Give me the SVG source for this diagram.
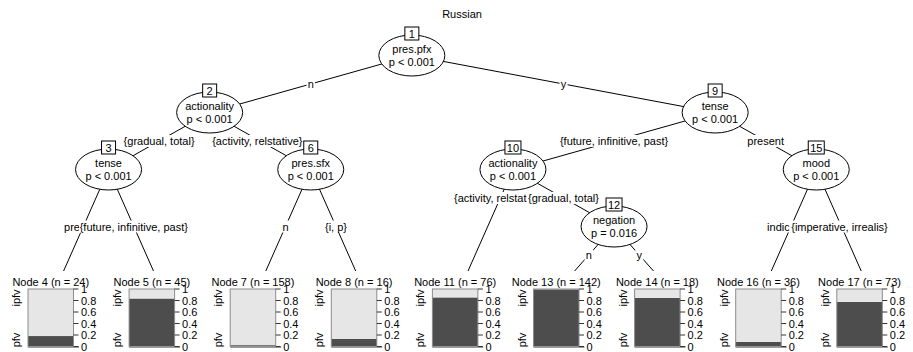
<svg xmlns="http://www.w3.org/2000/svg" width="913" height="352" viewBox="0 0 913 352">
<style>
text{font-family:"Liberation Sans",Arial,sans-serif;font-size:11px;fill:#000}
.m{text-anchor:middle}
.e{fill:#fff;stroke:#000;stroke-width:1}
.bx{fill:#fff;stroke:#000;stroke-width:1}
.edge{stroke:#000;stroke-width:1;fill:none}
.lb{fill:#fff;stroke:none}
.lt{fill:#e6e6e6}
.dk{fill:#4d4d4d}
.fr{fill:none;stroke:#8c8c8c;stroke-width:1}
.bl{stroke:#9a9a9a;stroke-width:1.6}
.tk{stroke:#333;stroke-width:1}
</style>
<rect width="913" height="352" fill="#fff"/>
<text class="m" x="462" y="18">Russian</text>

<g id="edges">
<line class="edge" x1="411.85" y1="55.5" x2="209.65" y2="112.5"/>
<line class="edge" x1="411.85" y1="55.5" x2="715.15" y2="112.5"/>
<line class="edge" x1="209.65" y1="112.5" x2="108.55" y2="169.5"/>
<line class="edge" x1="209.65" y1="112.5" x2="310.75" y2="169.5"/>
<line class="edge" x1="715.15" y1="112.5" x2="512.95" y2="169.5"/>
<line class="edge" x1="715.15" y1="112.5" x2="816.25" y2="169.5"/>
<line class="edge" x1="108.55" y1="169.5" x2="63.6" y2="271"/>
<line class="edge" x1="108.55" y1="169.5" x2="153.5" y2="271"/>
<line class="edge" x1="310.75" y1="169.5" x2="265.8" y2="271"/>
<line class="edge" x1="310.75" y1="169.5" x2="355.7" y2="271"/>
<line class="edge" x1="512.95" y1="169.5" x2="468" y2="271"/>
<line class="edge" x1="512.95" y1="169.5" x2="614.05" y2="226.5"/>
<line class="edge" x1="614.05" y1="226.5" x2="574.6" y2="271"/>
<line class="edge" x1="614.05" y1="226.5" x2="653.5" y2="271"/>
<line class="edge" x1="816.25" y1="169.5" x2="771.3" y2="271"/>
<line class="edge" x1="816.25" y1="169.5" x2="861.2" y2="271"/>
</g>

<g id="edge-labels">
<rect class="lb" x="306.5" y="78" width="8.5" height="12"/><text class="m" x="310.75" y="88">n</text>
<rect class="lb" x="559.5" y="78" width="8" height="12"/><text class="m" x="563.5" y="88">y</text>
<rect class="lb" x="123.1" y="135" width="72" height="12"/><text class="m" x="159.1" y="145">{gradual, total}</text>
<rect class="lb" x="211.5" y="135" width="91.5" height="12"/><text class="m" x="257.3" y="145">{activity, relstative}</text>
<rect class="lb" x="559.4" y="135" width="109.3" height="12"/><text class="m" x="614.05" y="145">{future, infinitive, past}</text>
<rect class="lb" x="746.8" y="135" width="38" height="12"/><text class="m" x="765.7" y="145">present</text>
<rect class="lb" x="63.6" y="220.5" width="20" height="12"/><text x="64.1" y="230.5">pre</text>
<rect class="lb" x="79.1" y="220.5" width="109.3" height="12"/><text class="m" x="133.8" y="230.5">{future, infinitive, past}</text>
<rect class="lb" x="281.3" y="220.5" width="8.5" height="12"/><text class="m" x="285.5" y="230.5">n</text>
<rect class="lb" x="324.5" y="220.5" width="23" height="12"/><text class="m" x="336" y="230.5">{i, p}</text>
<rect class="lb" x="453.5" y="192" width="72" height="12"/><text x="454" y="202">{activity, relstat</text>
<rect class="lb" x="527.5" y="192" width="72" height="12"/><text class="m" x="563.5" y="202">{gradual, total}</text>
<rect class="lb" x="584.6" y="249" width="8.5" height="12"/><text class="m" x="588.8" y="259">n</text>
<rect class="lb" x="635.3" y="249" width="8" height="12"/><text class="m" x="639.3" y="259">y</text>
<rect class="lb" x="766.6" y="220.5" width="24" height="12"/><text x="767.1" y="230.5">indic</text>
<rect class="lb" x="789.5" y="220.5" width="100" height="12"/><text class="m" x="839.5" y="230.5">{imperative, irrealis}</text>
</g>

<g id="node1">
<ellipse class="e" cx="411.85" cy="55.5" rx="33" ry="20.5"/>
<rect class="bx" x="404.85" y="27" width="14" height="13"/>
<text class="m" x="411.85" y="37.5">1</text>
<text class="m" x="411.85" y="53">pres.pfx</text>
<text class="m" x="411.85" y="66">p &lt; 0.001</text>
</g>
<g id="node2">
<ellipse class="e" cx="209.65" cy="112.5" rx="33" ry="20.5"/>
<rect class="bx" x="202.65" y="84" width="14" height="13"/>
<text class="m" x="209.65" y="94.5">2</text>
<text class="m" x="209.65" y="110">actionality</text>
<text class="m" x="209.65" y="123">p &lt; 0.001</text>
</g>
<g id="node9">
<ellipse class="e" cx="715.15" cy="112.5" rx="33" ry="20.5"/>
<rect class="bx" x="708.15" y="84" width="14" height="13"/>
<text class="m" x="715.15" y="94.5">9</text>
<text class="m" x="715.15" y="110">tense</text>
<text class="m" x="715.15" y="123">p &lt; 0.001</text>
</g>
<g id="node3">
<ellipse class="e" cx="108.55" cy="169.5" rx="33" ry="20.5"/>
<rect class="bx" x="101.55" y="141" width="14" height="13"/>
<text class="m" x="108.55" y="151.5">3</text>
<text class="m" x="108.55" y="167">tense</text>
<text class="m" x="108.55" y="180">p &lt; 0.001</text>
</g>
<g id="node6">
<ellipse class="e" cx="310.75" cy="169.5" rx="33" ry="20.5"/>
<rect class="bx" x="303.75" y="141" width="14" height="13"/>
<text class="m" x="310.75" y="151.5">6</text>
<text class="m" x="310.75" y="167">pres.sfx</text>
<text class="m" x="310.75" y="180">p &lt; 0.001</text>
</g>
<g id="node10">
<ellipse class="e" cx="512.95" cy="169.5" rx="33" ry="20.5"/>
<rect class="bx" x="504.95" y="141" width="16" height="13"/>
<text class="m" x="512.95" y="151.5">10</text>
<text class="m" x="512.95" y="167">actionality</text>
<text class="m" x="512.95" y="180">p &lt; 0.001</text>
</g>
<g id="node15">
<ellipse class="e" cx="816.25" cy="169.5" rx="33" ry="20.5"/>
<rect class="bx" x="808.25" y="141" width="16" height="13"/>
<text class="m" x="816.25" y="151.5">15</text>
<text class="m" x="816.25" y="167">mood</text>
<text class="m" x="816.25" y="180">p &lt; 0.001</text>
</g>
<g id="node12">
<ellipse class="e" cx="614.05" cy="226.5" rx="33" ry="20.5"/>
<rect class="bx" x="606.05" y="198" width="16" height="13"/>
<text class="m" x="614.05" y="208.5">12</text>
<text class="m" x="614.05" y="224">negation</text>
<text class="m" x="614.05" y="237">p = 0.016</text>
</g>

<g id="node4" transform="translate(28,0)">
<rect class="lt" x="0" y="289" width="45.5" height="57.5"/>
<rect class="dk" x="0" y="336.1" width="45.5" height="10.4"/>
<rect class="fr" x="0" y="289" width="45.5" height="57.5"/>
<line class="bl" x1="0" y1="347.3" x2="51" y2="347.3"/>
<path class="tk" d="M45.5 289h5M45.5 300.5h5M45.5 312h5M45.5 323.5h5M45.5 335h5M45.5 346.5h5"/>
<text x="53" y="293">1</text><text x="53" y="304.5">0.8</text><text x="53" y="316">0.6</text><text x="53" y="327.5">0.4</text><text x="53" y="339">0.2</text><text x="53" y="350.5">0</text>
<text class="m" transform="translate(-8,298) rotate(-90)">ipfv</text>
<text class="m" transform="translate(-8,340) rotate(-90)">pfv</text>
<text class="m" x="22.75" y="286">Node 4 (n = 24)</text>
</g>
<g id="node5" transform="translate(129.1,0)">
<rect class="lt" x="0" y="289" width="45.5" height="57.5"/>
<rect class="dk" x="0" y="298.8" width="45.5" height="47.7"/>
<rect class="fr" x="0" y="289" width="45.5" height="57.5"/>
<line class="bl" x1="0" y1="347.3" x2="51" y2="347.3"/>
<path class="tk" d="M45.5 289h5M45.5 300.5h5M45.5 312h5M45.5 323.5h5M45.5 335h5M45.5 346.5h5"/>
<text x="53" y="293">1</text><text x="53" y="304.5">0.8</text><text x="53" y="316">0.6</text><text x="53" y="327.5">0.4</text><text x="53" y="339">0.2</text><text x="53" y="350.5">0</text>
<text class="m" transform="translate(-8,298) rotate(-90)">ipfv</text>
<text class="m" transform="translate(-8,340) rotate(-90)">pfv</text>
<text class="m" x="22.75" y="286">Node 5 (n = 45)</text>
</g>
<g id="node7" transform="translate(230.2,0)">
<rect class="lt" x="0" y="289" width="45.5" height="57.5"/>
<rect class="dk" x="0" y="345.3" width="45.5" height="1.2"/>
<rect class="fr" x="0" y="289" width="45.5" height="57.5"/>
<line class="bl" x1="0" y1="347.3" x2="51" y2="347.3"/>
<path class="tk" d="M45.5 289h5M45.5 300.5h5M45.5 312h5M45.5 323.5h5M45.5 335h5M45.5 346.5h5"/>
<text x="53" y="293">1</text><text x="53" y="304.5">0.8</text><text x="53" y="316">0.6</text><text x="53" y="327.5">0.4</text><text x="53" y="339">0.2</text><text x="53" y="350.5">0</text>
<text class="m" transform="translate(-8,298) rotate(-90)">ipfv</text>
<text class="m" transform="translate(-8,340) rotate(-90)">pfv</text>
<text class="m" x="22.75" y="286">Node 7 (n = 158)</text>
</g>
<g id="node8" transform="translate(331.3,0)">
<rect class="lt" x="0" y="289" width="45.5" height="57.5"/>
<rect class="dk" x="0" y="339" width="45.5" height="7.5"/>
<rect class="fr" x="0" y="289" width="45.5" height="57.5"/>
<line class="bl" x1="0" y1="347.3" x2="51" y2="347.3"/>
<path class="tk" d="M45.5 289h5M45.5 300.5h5M45.5 312h5M45.5 323.5h5M45.5 335h5M45.5 346.5h5"/>
<text x="53" y="293">1</text><text x="53" y="304.5">0.8</text><text x="53" y="316">0.6</text><text x="53" y="327.5">0.4</text><text x="53" y="339">0.2</text><text x="53" y="350.5">0</text>
<text class="m" transform="translate(-8,298) rotate(-90)">ipfv</text>
<text class="m" transform="translate(-8,340) rotate(-90)">pfv</text>
<text class="m" x="22.75" y="286">Node 8 (n = 16)</text>
</g>
<g id="node11" transform="translate(432.4,0)">
<rect class="lt" x="0" y="289" width="45.5" height="57.5"/>
<rect class="dk" x="0" y="297.7" width="45.5" height="48.8"/>
<rect class="fr" x="0" y="289" width="45.5" height="57.5"/>
<line class="bl" x1="0" y1="347.3" x2="51" y2="347.3"/>
<path class="tk" d="M45.5 289h5M45.5 300.5h5M45.5 312h5M45.5 323.5h5M45.5 335h5M45.5 346.5h5"/>
<text x="53" y="293">1</text><text x="53" y="304.5">0.8</text><text x="53" y="316">0.6</text><text x="53" y="327.5">0.4</text><text x="53" y="339">0.2</text><text x="53" y="350.5">0</text>
<text class="m" transform="translate(-8,298) rotate(-90)">ipfv</text>
<text class="m" transform="translate(-8,340) rotate(-90)">pfv</text>
<text class="m" x="22.75" y="286">Node 11 (n = 76)</text>
</g>
<g id="node13" transform="translate(533.5,0)">
<rect class="lt" x="0" y="289" width="45.5" height="57.5"/>
<rect class="dk" x="0" y="289.5" width="45.5" height="57"/>
<rect class="fr" x="0" y="289" width="45.5" height="57.5"/>
<line class="bl" x1="0" y1="347.3" x2="51" y2="347.3"/>
<path class="tk" d="M45.5 289h5M45.5 300.5h5M45.5 312h5M45.5 323.5h5M45.5 335h5M45.5 346.5h5"/>
<text x="53" y="293">1</text><text x="53" y="304.5">0.8</text><text x="53" y="316">0.6</text><text x="53" y="327.5">0.4</text><text x="53" y="339">0.2</text><text x="53" y="350.5">0</text>
<text class="m" transform="translate(-8,298) rotate(-90)">ipfv</text>
<text class="m" transform="translate(-8,340) rotate(-90)">pfv</text>
<text class="m" x="22.75" y="286">Node 13 (n = 142)</text>
</g>
<g id="node14" transform="translate(634.6,0)">
<rect class="lt" x="0" y="289" width="45.5" height="57.5"/>
<rect class="dk" x="0" y="298" width="45.5" height="48.5"/>
<rect class="fr" x="0" y="289" width="45.5" height="57.5"/>
<line class="bl" x1="0" y1="347.3" x2="51" y2="347.3"/>
<path class="tk" d="M45.5 289h5M45.5 300.5h5M45.5 312h5M45.5 323.5h5M45.5 335h5M45.5 346.5h5"/>
<text x="53" y="293">1</text><text x="53" y="304.5">0.8</text><text x="53" y="316">0.6</text><text x="53" y="327.5">0.4</text><text x="53" y="339">0.2</text><text x="53" y="350.5">0</text>
<text class="m" transform="translate(-8,298) rotate(-90)">ipfv</text>
<text class="m" transform="translate(-8,340) rotate(-90)">pfv</text>
<text class="m" x="22.75" y="286">Node 14 (n = 18)</text>
</g>
<g id="node16" transform="translate(735.7,0)">
<rect class="lt" x="0" y="289" width="45.5" height="57.5"/>
<rect class="dk" x="0" y="342" width="45.5" height="4.5"/>
<rect class="fr" x="0" y="289" width="45.5" height="57.5"/>
<line class="bl" x1="0" y1="347.3" x2="51" y2="347.3"/>
<path class="tk" d="M45.5 289h5M45.5 300.5h5M45.5 312h5M45.5 323.5h5M45.5 335h5M45.5 346.5h5"/>
<text x="53" y="293">1</text><text x="53" y="304.5">0.8</text><text x="53" y="316">0.6</text><text x="53" y="327.5">0.4</text><text x="53" y="339">0.2</text><text x="53" y="350.5">0</text>
<text class="m" transform="translate(-8,298) rotate(-90)">ipfv</text>
<text class="m" transform="translate(-8,340) rotate(-90)">pfv</text>
<text class="m" x="22.75" y="286">Node 16 (n = 36)</text>
</g>
<g id="node17" transform="translate(836.8,0)">
<rect class="lt" x="0" y="289" width="45.5" height="57.5"/>
<rect class="dk" x="0" y="302" width="45.5" height="44.5"/>
<rect class="fr" x="0" y="289" width="45.5" height="57.5"/>
<line class="bl" x1="0" y1="347.3" x2="51" y2="347.3"/>
<path class="tk" d="M45.5 289h5M45.5 300.5h5M45.5 312h5M45.5 323.5h5M45.5 335h5M45.5 346.5h5"/>
<text x="53" y="293">1</text><text x="53" y="304.5">0.8</text><text x="53" y="316">0.6</text><text x="53" y="327.5">0.4</text><text x="53" y="339">0.2</text><text x="53" y="350.5">0</text>
<text class="m" transform="translate(-8,298) rotate(-90)">ipfv</text>
<text class="m" transform="translate(-8,340) rotate(-90)">pfv</text>
<text class="m" x="22.75" y="286">Node 17 (n = 73)</text>
</g>
</svg>
